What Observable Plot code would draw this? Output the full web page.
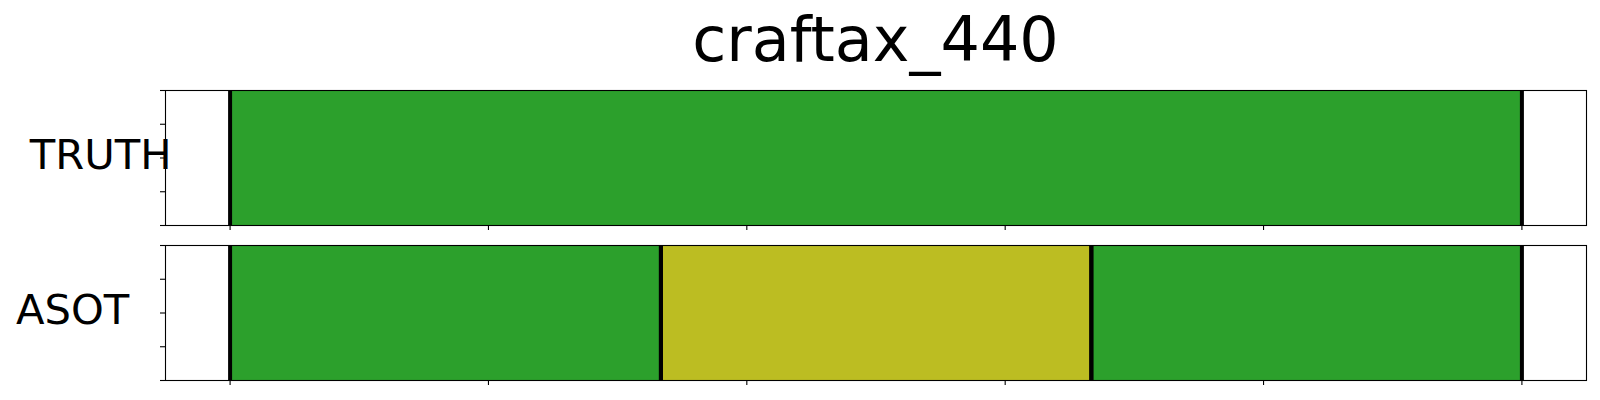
<!DOCTYPE html>
<html>
<head>
<meta charset="utf-8">
<script src="https://cdn.jsdelivr.net/npm/d3@7"></script>
<script src="https://cdn.jsdelivr.net/npm/@observablehq/plot@0.6"></script>
<style>
  html, body { margin: 0; padding: 0; background: white; }
  #wrap { position: relative; width: 1600px; height: 400px; overflow: hidden; }
  #title { position: absolute; left: 165px; width: 1421px; top: 9px; text-align: center;
           font-family: "DejaVu Sans"; font-size: 62px; line-height: 62px; color: black; white-space: nowrap; }
  #chart { position: absolute; left: 0; top: 0; }
</style>
</head>
<body>
<div id="wrap">
  <div id="chart"></div>
  <div id="title">craftax_440</div>
</div>
<script>
// Rows (panels)
const rows = ["TRUTH", "ASOT"];
// Segments
const segRow    = ["TRUTH", "ASOT", "ASOT", "ASOT"];
const segStart  = [0, 0, 33.35, 66.67];
const segEnd    = [100, 33.35, 66.67, 100];
const segAction = ["a", "a", "b", "a"];
// Action categories and colours
const actions = ["a", "b"];
const actionColors = ["#2ca02c", "#bcbd22"];
// Tick positions (labels hidden in the reference)
const xTicks = [0, 20, 40, 60, 80, 100];
const yTicks = [0, 1, 2, 3, 4];

const segs = segRow.map((r, i) => ({row: r, start: segStart[i], end: segEnd[i], action: segAction[i]}));

const chart = Plot.plot({
  width: 1600,
  height: 400,
  marginTop: 90,
  marginBottom: 20,
  marginLeft: 165,
  marginRight: 14,
  style: {fontFamily: "DejaVu Sans", background: "white", color: "black"},
  x: {domain: [-5, 105]},
  y: {domain: [0, 4]},
  fy: {domain: rows, axis: null, paddingInner: 20 / 155, paddingOuter: 0},
  color: {domain: actions, range: actionColors},
  marks: [
    Plot.rect(segs, {x1: "start", x2: "end", fy: "row", fill: "action"}),
    Plot.ruleX(segs, {x: "start", fy: "row", stroke: "black", strokeWidth: 4}),
    Plot.ruleX(segs, {x: "end", fy: "row", stroke: "black", strokeWidth: 4}),
    Plot.frame({stroke: "black", strokeWidth: 1.1}),
    Plot.axisX({ticks: xTicks, tickSize: 5, strokeWidth: 1.1, fill: "none", label: null, anchor: "bottom", facetAnchor: null}),
    Plot.axisY({ticks: yTicks, tickSize: 5, strokeWidth: 1.1, fill: "none", label: null, anchor: "left", facetAnchor: null}),
    Plot.text([rows[0]], {fy: d => d, text: d => d, frameAnchor: "left", textAnchor: "start", dx: -135.7, dy: -2.5, fontSize: 41.7, fill: "black"}),
    Plot.text([rows[1]], {fy: d => d, text: d => d, frameAnchor: "left", textAnchor: "start", dx: -149.5, dy: -2.5, fontSize: 41.7, fill: "black"})
  ]
});
document.getElementById("chart").appendChild(chart);
</script>
</body>
</html>
